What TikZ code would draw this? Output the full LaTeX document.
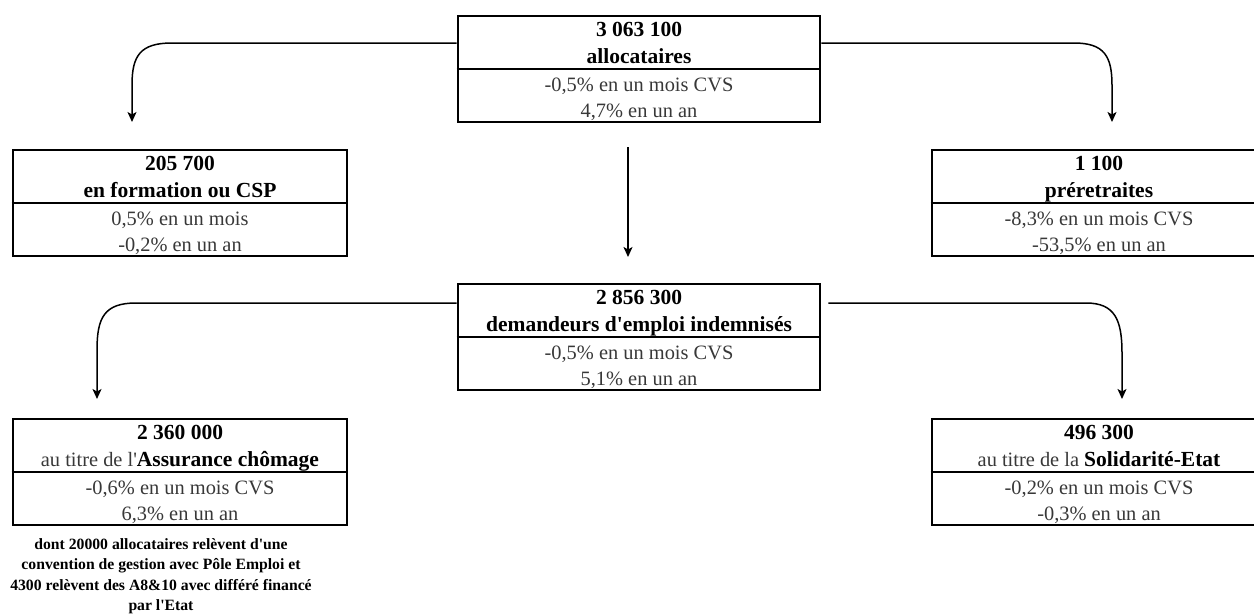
\documentclass[tikz,border=0pt]{standalone}
\usepackage{fontspec}
\setmainfont{Liberation Serif}[Ligatures=TeXOff]
\usetikzlibrary{calc,arrows.meta}
\tikzset{
  box/.style={draw, line width=2.9pt, minimum width=#1, minimum height=106pt, inner sep=0pt},
  divline/.style={line width=1.9pt},
  conn/.style={line width=1.5pt, -{Stealth[length=10pt,width=9pt,inset=2.5pt]}},
  hd/.style={anchor=base, inner sep=0pt, font=\fontsize{21.5}{24}\selectfont\bfseries, text=black},
  tx/.style={anchor=base, inner sep=0pt, font=\fontsize{20.4}{24}\selectfont, text=black!78},
  notetext/.style={anchor=north, inner sep=0pt, align=center, font=\fontsize{15.7}{20.5}\selectfont\bfseries, text=black}
}
\begin{document}
\begin{tikzpicture}[x=1pt,y=-1pt]
\clip (0,0) rectangle (1254,616);
\useasboundingbox (0,0) rectangle (1254,616);
% boxes
\node[box=362pt] (A) at (639,69) {};
\node[box=334pt] (B) at (180,203) {};
\node[box=334pt] (C) at (1099,203) {};
\node[box=362pt] (D) at (639,337) {};
\node[box=334pt] (E) at (180,472) {};
\node[box=334pt] (F) at (1099,472) {};
\foreach \b in {A,B,C,D,E,F}{\draw[divline] (\b.west) -- (\b.east);}
% texts
\node[hd] (a1) at ($(A.center)+(0,-33)$) {3 063 100};
\node[hd] (a2) at ($(A.center)+(0,-6)$) {allocataires};
\node[tx] (a3) at ($(A.center)+(0,22)$) {-0,5\% en un mois CVS};
\node[tx] (a4) at ($(A.center)+(0,48)$) {4,7\% en un an};
\node[hd] (b1) at ($(B.center)+(0,-33)$) {205 700};
\node[hd] (b2) at ($(B.center)+(0,-6)$) {en formation ou CSP};
\node[tx] (b3) at ($(B.center)+(0,22)$) {0,5\% en un mois};
\node[tx] (b4) at ($(B.center)+(0,48)$) {-0,2\% en un an};
\node[hd] (c1) at ($(C.center)+(0,-33)$) {1 100};
\node[hd] (c2) at ($(C.center)+(0,-6)$) {préretraites};
\node[tx] (c3) at ($(C.center)+(0,22)$) {-8,3\% en un mois CVS};
\node[tx] (c4) at ($(C.center)+(0,48)$) {-53,5\% en un an};
\node[hd] (d1) at ($(D.center)+(0,-33)$) {2 856 300};
\node[hd] (d2) at ($(D.center)+(0,-6)$) {demandeurs d'emploi indemnisés};
\node[tx] (d3) at ($(D.center)+(0,22)$) {-0,5\% en un mois CVS};
\node[tx] (d4) at ($(D.center)+(0,48)$) {5,1\% en un an};
\node[hd] (e1) at ($(E.center)+(0,-33)$) {2 360 000};
\node[tx] (e2) at ($(E.center)+(0,-6)$) {au titre de l'\textcolor{black}{\fontsize{21.5}{24}\selectfont\bfseries Assurance chômage}};
\node[tx] (e3) at ($(E.center)+(0,22)$) {-0,6\% en un mois CVS};
\node[tx] (e4) at ($(E.center)+(0,48)$) {6,3\% en un an};
\node[hd] (f1) at ($(F.center)+(0,-33)$) {496 300};
\node[tx] (f2) at ($(F.center)+(0,-6)$) {au titre de la \textcolor{black}{\fontsize{21.5}{24}\selectfont\bfseries Solidarité-Etat}};
\node[tx] (f3) at ($(F.center)+(0,22)$) {-0,2\% en un mois CVS};
\node[tx] (f4) at ($(F.center)+(0,48)$) {-0,3\% en un an};
\node[notetext] (note) at (161,538) {dont 20000 allocataires relèvent d'une\\convention de gestion avec Pôle Emploi et\\4300 relèvent des A8\&10 avec différé financé\\par l'Etat};
% connector end points
\coordinate (tipB) at (132,122);
\coordinate (tipC) at (1112,122);
\coordinate (midS) at (628,147);
\coordinate (midT) at (628,257);
\coordinate (tipE) at (97,399);
\coordinate (tipF) at (1122,399);
% connectors
\draw[conn] ($(A.west)+(0,-26)$) -- (172,43) .. controls (140,43) and (132,56) .. (132,85) -- (tipB);
\draw[conn] ($(A.east)+(0,-26)$) -- (1074,43) .. controls (1104,43) and (1112,56) .. (1112,85) -- (tipC);
\draw[conn] (midS) -- (midT);
\draw[conn] ($(D.west)+(0,-34)$) -- (136,303) .. controls (104,303) and (97,318) .. (97,350) -- (tipE);
\draw[conn] ($(D.east)+(7,-34)$) -- (1086,303) .. controls (1115,303) and (1122,320) .. (1122,353) -- (tipF);
\end{tikzpicture}
\end{document}
